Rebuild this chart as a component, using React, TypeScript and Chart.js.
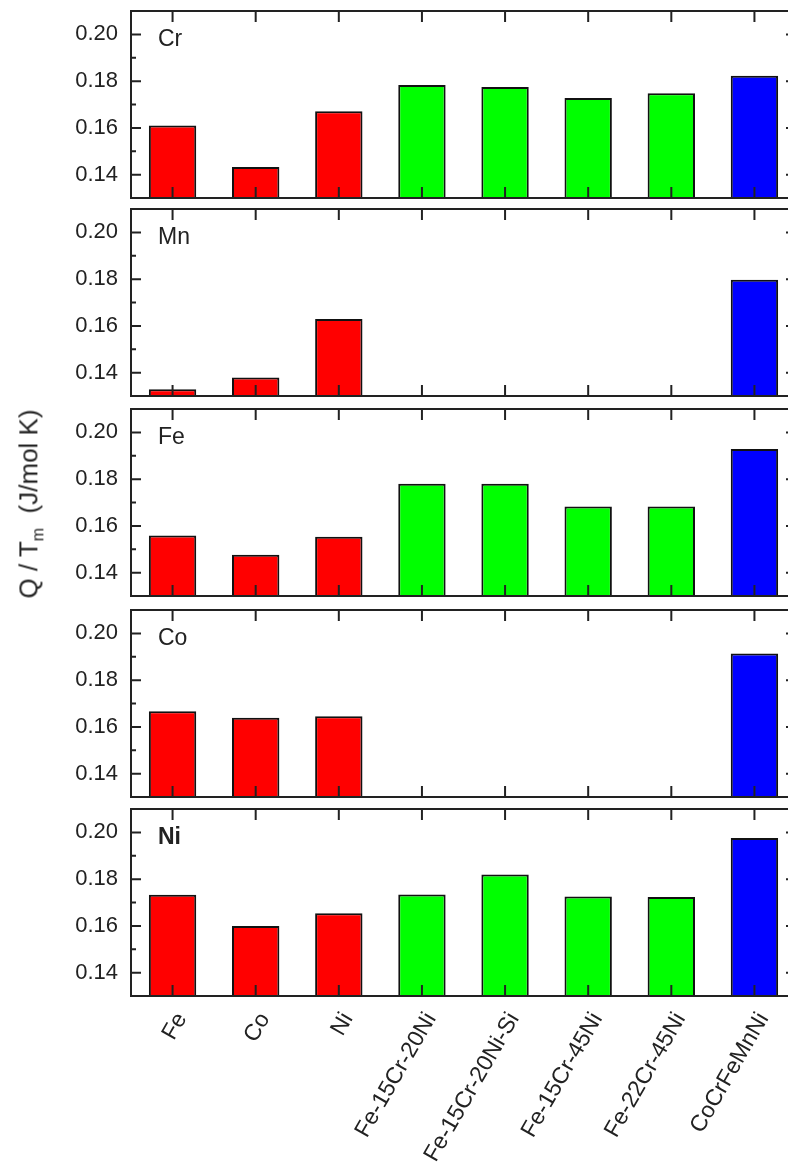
import React, { useEffect, useRef } from "react";
import { Chart, registerables } from "chart.js";

Chart.register(...registerables);

// ---------- data ----------
const categories = [
  "Fe",
  "Co",
  "Ni",
  "Fe-15Cr-20Ni",
  "Fe-15Cr-20Ni-Si",
  "Fe-15Cr-45Ni",
  "Fe-22Cr-45Ni",
  "CoCrFeMnNi",
];
const panelLabels = ["Cr", "Mn", "Fe", "Co", "Ni"];
const crValues = [0.161, 0.1433, 0.1671, 0.1783, 0.1775, 0.1728, 0.1748, 0.1823];
const mnValues = [0.1329, 0.1379, 0.1629, null, null, null, null, 0.1797];
const feValues = [0.1559, 0.1477, 0.1553, 0.178, 0.178, 0.1683, 0.1683, 0.1929];
const coValues = [0.1667, 0.1639, 0.1645, null, null, null, null, 0.1914];
const niValues = [0.1733, 0.16, 0.1654, 0.1734, 0.182, 0.1726, 0.1723, 0.1976];
const barColors = ["#ff0000", "#ff0000", "#ff0000", "#00ff00", "#00ff00", "#00ff00", "#00ff00", "#0000ff"];
const yTicks = [0.14, 0.16, 0.18, 0.2];
const yMinorTicks = [0.15, 0.17, 0.19];
const yMin = 0.13;
const yMax = 0.21;
const yTitle = "Q / T";
const yTitleSub = "m";
const yTitleUnit = "  (J/mol K)";

// ---------- layout ----------
const FONT = '"Liberation Sans", Arial, sans-serif';
const PAGE_W = 788;
const PAGE_H = 1171;
const CANVAS_W = 800;
const PAD = 4;
const PANEL_H = 187;
const PANEL_TOPS = [11, 209, 409, 610, 809];
const Y_AXIS_W = 131;
const MAJOR = 10;
const MINOR = 5;
const INK = "#222";

const seriesList = [crValues, mnValues, feValues, coValues, niValues];

function framePlugin(label: string, bold: boolean) {
  return {
    id: "frame",
    afterDatasetsDraw(chart: any) {
      const { ctx, chartArea: a, scales } = chart;
      const x = scales.x;
      const y = scales.y;
      ctx.save();
      ctx.strokeStyle = INK;
      ctx.lineWidth = 2;
      ctx.strokeRect(a.left, a.top, a.right - a.left, a.bottom - a.top);
      ctx.beginPath();
      for (const v of yTicks) {
        const py = y.getPixelForValue(v);
        ctx.moveTo(a.left, py);
        ctx.lineTo(a.left + MAJOR, py);
        ctx.moveTo(a.right, py);
        ctx.lineTo(a.right - MAJOR, py);
      }
      for (const v of yMinorTicks) {
        const py = y.getPixelForValue(v);
        ctx.moveTo(a.left, py);
        ctx.lineTo(a.left + MINOR, py);
        ctx.moveTo(a.right, py);
        ctx.lineTo(a.right - MINOR, py);
      }
      categories.forEach((_, i) => {
        const px = x.getPixelForValue(i);
        ctx.moveTo(px, a.top);
        ctx.lineTo(px, a.top + MAJOR + 1);
        ctx.moveTo(px, a.bottom);
        ctx.lineTo(px, a.bottom - MAJOR - 1);
      });
      ctx.stroke();
      ctx.fillStyle = INK;
      ctx.font = `${bold ? "bold " : ""}23px ${FONT}`;
      ctx.textBaseline = "middle";
      ctx.textAlign = "left";
      ctx.fillText(label, a.left + 27, a.top + 29);
      ctx.restore();
    },
  };
}

function Panel({ index }: { index: number }) {
  const ref = useRef<HTMLCanvasElement>(null);
  const showX = index === panelLabels.length - 1;
  const top = PANEL_TOPS[index] - PAD;
  const height = showX ? PAGE_H - top : PANEL_H + 2 * PAD;
  const xAxisH = showX ? height - PAD - PANEL_H : 0;

  useEffect(() => {
    const chart = new Chart(ref.current as HTMLCanvasElement, {
      type: "bar",
      data: {
        labels: categories,
        datasets: [
          {
            data: seriesList[index] as any,
            backgroundColor: barColors,
            borderColor: "#111",
            borderWidth: 2,
            borderSkipped: false,
            barPercentage: 0.57,
            categoryPercentage: 1,
          },
        ],
      },
      options: {
        animation: false,
        responsive: false,
        maintainAspectRatio: false,
        layout: { padding: { top: PAD, bottom: showX ? 0 : PAD, left: 0, right: 4 } },
        plugins: {
          legend: { display: false },
          tooltip: { enabled: false },
        },
        scales: {
          x: {
            display: showX,
            grid: { display: false, drawTicks: false },
            border: { display: false },
            ticks: {
              autoSkip: false,
              minRotation: 60,
              maxRotation: 60,
              padding: 12,
              labelOffset: 9,
              color: INK,
              font: { family: FONT, size: 23 },
            },
            afterFit: (s: any) => {
              s.height = xAxisH;
              s.paddingLeft = 0;
              s.paddingRight = 0;
            },
          },
          y: {
            min: yMin,
            max: yMax,
            grid: { display: false, drawTicks: false },
            border: { display: false },
            afterBuildTicks: (s: any) => {
              s.ticks = yTicks.map((v) => ({ value: v }));
            },
            ticks: {
              padding: 13,
              color: INK,
              font: { family: FONT, size: 22 },
              callback: (v: any) => Number(v).toFixed(2),
            },
            afterFit: (s: any) => {
              s.width = Y_AXIS_W;
              s.paddingTop = 0;
              s.paddingBottom = 0;
            },
          },
        },
      },
      plugins: [framePlugin(panelLabels[index], index === panelLabels.length - 1)],
    });
    return () => chart.destroy();
  }, []);

  return (
    <canvas
      ref={ref}
      width={CANVAS_W}
      height={height}
      style={{ position: "absolute", left: 0, top, width: CANVAS_W, height }}
    />
  );
}

export default function App() {
  return (
    <div
      style={{
        position: "absolute",
        left: 0,
        top: 0,
        width: PAGE_W,
        height: PAGE_H,
        overflow: "hidden",
        background: "#fff",
      }}
    >
      {panelLabels.map((_, i) => (
        <Panel key={i} index={i} />
      ))}
      <div
        style={{
          position: "absolute",
          left: 31,
          top: 504,
          transform: "translate(-50%, -50%) rotate(-90deg)",
          whiteSpace: "pre",
          fontFamily: FONT,
          fontSize: 26,
          color: INK,
          lineHeight: 1,
        }}
      >
        {yTitle}
        <sub style={{ fontSize: 16 }}>{yTitleSub}</sub>
        {yTitleUnit}
      </div>
    </div>
  );
}
